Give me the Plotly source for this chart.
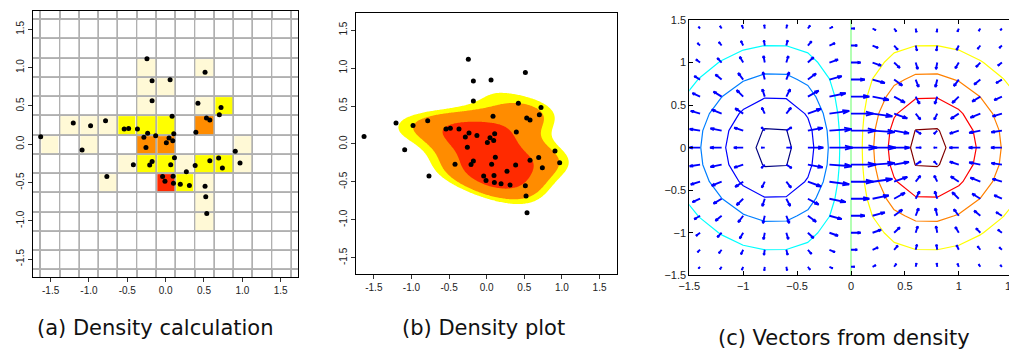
import numpy as np
import plotly.graph_objects as go
import plotly.figure_factory as ff

# ---------------- data: sample points (panels a and b) ----------------
pts_x = [-0.244, 0.514, -0.177, 0.058, -0.177, 0.421, 0.722, 0.700, 0.532, 0.576,
         0.084, -1.205, -0.979, -0.784, -1.630, -1.090, -0.767, -0.541, -0.483, -0.368,
         -0.235, -0.284, -0.130, -0.257, 0.044, 0.106, 0.009, 0.093, 0.394, 0.115,
         -0.177, -0.208, -0.421, 0.066, 0.385, 0.576, 0.691, 0.740, 0.908, 0.970,
         0.270, -0.040, 0.097, -0.009, 0.102, 0.191, 0.310, 0.514, 0.523, 0.536]
pts_y = [1.115, 0.940, 0.830, 0.843, 0.567, 0.536, 0.479, 0.385, 0.343, 0.316,
         0.365, 0.277, 0.242, 0.307, 0.097, -0.075, -0.422, 0.198, 0.206, 0.198,
         0.145, 0.092, 0.110, -0.044, 0.083, 0.136, 0.018, 0.044, 0.158, -0.176,
         -0.224, -0.272, -0.268, -0.268, -0.277, -0.215, -0.180, -0.312, -0.092, -0.246,
         -0.360, -0.422, -0.417, -0.483, -0.509, -0.523, -0.540, -0.549, -0.685, -0.905]

# panel (a): counting grid
bin_start = -1.635
bin_size = 0.2515
bin_count = 13
count_colors = ["#FFFFFF", "#FFF9D6", "#FFFF00", "#FF8C00", "#FF2A00"]

# panel (b): kernel widening per axis, density levels (fraction of peak) and fills
kernel_stretch = [1.3, 0.85]
density_levels = [0.32, 0.42, 0.70]
density_colors = ["#FFFF00", "#FF8C00", "#FF2A00"]

# panel (c): density profile sampled on the grid
grid_vals = [-2.0, -1.8, -1.6, -1.4, -1.2, -1.0, -0.8, -0.6, -0.4, -0.2, 0.0,
             0.2, 0.4, 0.6, 0.8, 1.0, 1.2, 1.4, 1.6, 1.8, 2.0]
profile_x = [-0.0366, -0.0705, -0.1237, -0.1972, -0.2843, -0.3679, -0.4218, -0.4186, -0.3409, -0.1922, 0.0,
             0.1922, 0.3409, 0.4186, 0.4218, 0.3679, 0.2843, 0.1972, 0.1237, 0.0705, 0.0366]
profile_y = [0.0183, 0.0392, 0.0773, 0.1409, 0.2369, 0.3679, 0.5273, 0.6977, 0.8521, 0.9608, 1.0,
             0.9608, 0.8521, 0.6977, 0.5273, 0.3679, 0.2369, 0.1409, 0.0773, 0.0392, 0.0183]
contour_start, contour_end, contour_step = -0.4, 0.4, 0.1

ab_tickvals = [-1.5, -1.0, -0.5, 0.0, 0.5, 1.0, 1.5]
ab_ticktext = ["-1.5", "-1.0", "-0.5", "0.0", "0.5", "1.0", "1.5"]
c_tickvals = [-1.5, -1.0, -0.5, 0.0, 0.5, 1.0, 1.5]
c_ticktext = ["\u22121.5", "\u22121", "\u22120.5", "0", "0.5", "1", "1.5"]

captions = ["(a) Density calculation", "(b) Density plot", "(c) Vectors from density"]

# ---------------------------------------------------------------------
fig = go.Figure()

# panel (a)
n_col = len(count_colors)
cs = []
for i, c in enumerate(count_colors):
    cs.append([i / n_col, c])
    cs.append([(i + 1) / n_col, c])
fig.add_trace(go.Histogram2d(
    x=pts_x, y=pts_y,
    autobinx=False, autobiny=False,
    xbins=dict(start=bin_start, end=bin_start + bin_count * bin_size, size=bin_size),
    ybins=dict(start=bin_start, end=bin_start + bin_count * bin_size, size=bin_size),
    colorscale=cs, zmin=-0.5, zmax=n_col - 0.5, showscale=False,
    xgap=2, ygap=2, hoverinfo="skip", xaxis="x", yaxis="y"))
fig.add_trace(go.Scatter(x=pts_x, y=pts_y, mode="markers",
                         marker=dict(color="black", size=5), hoverinfo="skip",
                         xaxis="x", yaxis="y", showlegend=False))

# panel (b): gaussian kernel density estimate (Scott's rule, full covariance)
P = np.vstack([pts_x, pts_y])
npts = P.shape[1]
S = np.diag(kernel_stretch)
kcov = S @ (np.cov(P) * npts ** (-2.0 / 6.0)) @ S
kinv = np.linalg.inv(kcov)
gx = np.linspace(-1.73, 1.73, 241)
gy = np.linspace(-1.72, 1.72, 241)
GX, GY = np.meshgrid(gx, gy)
dens = np.zeros_like(GX)
for xi, yi in zip(pts_x, pts_y):
    ddx = GX - xi
    ddy = GY - yi
    dens += np.exp(-0.5 * (kinv[0, 0] * ddx ** 2 + 2 * kinv[0, 1] * ddx * ddy + kinv[1, 1] * ddy ** 2))
dens = dens / dens.max()
for lev, col in zip(density_levels, density_colors):
    fig.add_trace(go.Contour(
        x=gx, y=gy, z=dens,
        contours=dict(type="constraint", operation="<", value=lev),
        fillcolor=col, line=dict(width=0, color=col, smoothing=1),
        showscale=False, hoverinfo="skip", xaxis="x2", yaxis="y2"))
fig.add_trace(go.Scatter(x=pts_x, y=pts_y, mode="markers",
                         marker=dict(color="black", size=5), hoverinfo="skip",
                         xaxis="x2", yaxis="y2", showlegend=False))

# panel (c): contours of the density and its gradient vectors
g = np.array(grid_vals)
Z = np.outer(profile_y, profile_x)
jet = [[0.0, "#000080"], [0.125, "#0000FF"], [0.375, "#00FFFF"],
       [0.625, "#FFFF00"], [0.875, "#FF0000"], [1.0, "#800000"]]
fig.add_trace(go.Contour(
    x=g, y=g, z=Z,
    contours=dict(start=contour_start, end=contour_end, size=contour_step, coloring="lines"),
    colorscale=jet, showscale=False,
    line=dict(width=1.2, smoothing=0), hoverinfo="skip", xaxis="x3", yaxis="y3"))

dy, dx = np.gradient(Z, g, g)
X, Y = np.meshgrid(g, g)
n = len(g)
delx = (g.max() - g.min()) / n
dely = (g.max() - g.min()) / n
maxlen = np.max(np.sqrt((dx ** 2 + dy ** 2) / (delx ** 2 + dely ** 2)))
scale = 0.9 / maxlen
q = ff.create_quiver(X, Y, dx, dy, scale=scale, arrow_scale=0.35, angle=0.32,
                     line=dict(color="#0000FF", width=1.9))
for tr in q.data:
    tr.update(xaxis="x3", yaxis="y3", showlegend=False, hoverinfo="skip")
    fig.add_trace(tr)

# ---------------------------------------------------------------------
# the page places the figure 8 px in from the window's top-left corner
OFF = 8
W, H = 1017 - OFF, 352 - OFF
tick_font = dict(family="Liberation Sans, Arial, sans-serif", size=10, color="#222222")
tick_font_c = dict(family="Liberation Sans, Arial, sans-serif", size=11, color="#222222")


def dom_x(a, b):
    return [(a - OFF) / W, (b - OFF) / W]


def dom_y(top, bottom):
    return [1 - (bottom - OFF) / H, 1 - (top - OFF) / H]


ab_axis = dict(tickmode="array", tickvals=ab_tickvals, ticktext=ab_ticktext,
               ticks="outside", ticklen=4, tickcolor="#333333", showline=True,
               linecolor="black", linewidth=1, mirror=True, zeroline=False,
               tickfont=tick_font, fixedrange=True, automargin=False)
c_axis = dict(range=[-1.5, 1.5], tickmode="array", tickvals=c_tickvals, ticktext=c_ticktext,
              ticks="inside", ticklen=4, tickcolor="black", showline=True,
              linecolor="black", linewidth=1, mirror="ticks", zeroline=False,
              showgrid=False, tickfont=tick_font_c, fixedrange=True, automargin=False,
              ticklabeloverflow="allow")

fig.update_layout(
    width=W, height=H, margin=dict(l=0, r=0, t=0, b=0, pad=0, autoexpand=False),
    paper_bgcolor="white", plot_bgcolor="white", showlegend=False,
    xaxis=dict(ab_axis, domain=dom_x(33, 298.3), range=[-1.73, 1.73], anchor="y",
               showgrid=False,
               minor=dict(tick0=bin_start, dtick=bin_size, showgrid=True,
                          gridcolor="#B0B0B0", gridwidth=2)),
    yaxis=dict(ab_axis, domain=dom_y(11, 276.7), range=[-1.73, 1.74], anchor="x",
               tickangle=-90, showgrid=False,
               minor=dict(tick0=bin_start, dtick=bin_size, showgrid=True,
                          gridcolor="#B0B0B0", gridwidth=2)),
    xaxis2=dict(ab_axis, domain=dom_x(356.3, 617.3), range=[-1.733, 1.736], anchor="y2",
                showgrid=False),
    yaxis2=dict(ab_axis, domain=dom_y(13.3, 274), range=[-1.713, 1.721], anchor="x2",
                tickangle=-90, showgrid=False),
    xaxis3=dict(c_axis, domain=dom_x(689.3, 1012.7), anchor="y3"),
    yaxis3=dict(c_axis, domain=dom_y(20, 275.3), anchor="x3"),
)

cap_font = dict(family="DejaVu Sans, sans-serif", size=21, color="#111111")
cap_pos = [(155, 328), (483, 328), (844, 338)]
for text, (cx, cy) in zip(captions, cap_pos):
    fig.add_annotation(text=text, x=(cx - OFF) / W, y=1 - (cy - OFF) / H,
                       xref="paper", yref="paper",
                       showarrow=False, font=cap_font, xanchor="center", yanchor="middle")

fig.write_html("out.html")
